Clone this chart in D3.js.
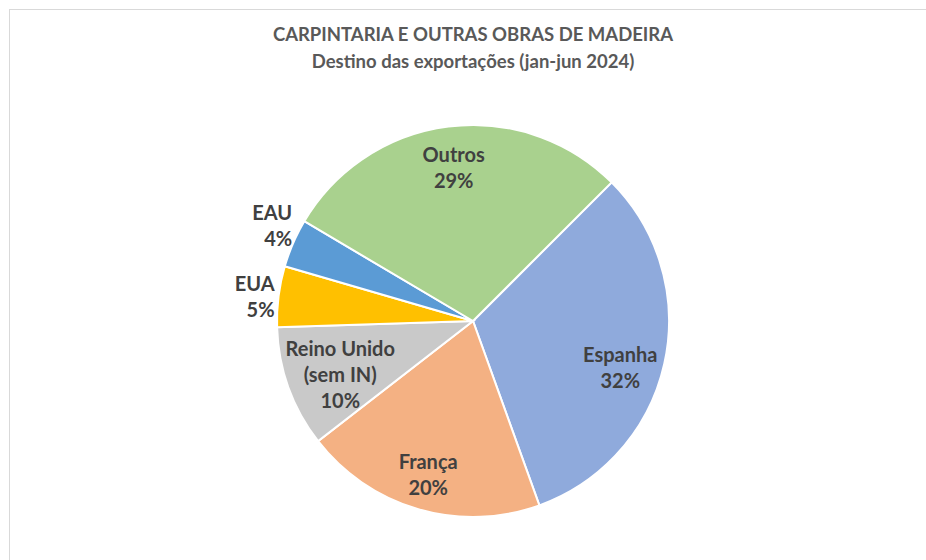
<!DOCTYPE html>
<html lang="en">
    <head>
        <meta charset="utf-8">
        <title>Carpintaria - destino das exportações</title>
        <script src="https://d3js.org/d3.v7.min.js"></script>
        <style type="text/css">
            body { margin: 0; background: #fff; }
            text { font-family: Lato, "Open Sans", sans-serif; font-weight: bold; }
        </style>
    </head>
    <body>
        <script type="text/javascript">

            const svgW = 926;
            const svgH = 560;

            const paises = ["Espanha", "França", "Reino Unido|(sem IN)", "EUA", "EAU", "Outros"];
            const valores = [32, 20, 10, 5, 4, 29];
            const cores = ["#8FAADC", "#F4B183", "#C9C9C9", "#FFC000", "#5B9BD5", "#A9D18E"];

            // label placement: [radius factor, dx, dy, anchor]
            const rotulos = [
                [0.77, 0, 14, "middle"],
                [0.82, 0, 0, "middle"],
                [0.72, 0, 6, "middle"],
                [1.0, -4, 1, "end"],
                [1.0, -1, -17, "end"],
                [0.786, 0, 0, "middle"]
            ];

            const cx = 473, cy = 321, radius = 196;

            const svg = d3.select("body")
                    .append("svg")
                    .attr("width", svgW)
                    .attr("height", svgH);

            svg.append("rect")
                .attr("x", 9.5).attr("y", 9.5)
                .attr("width", 940).attr("height", 580)
                .attr("fill", "none")
                .attr("stroke", "#d9d9d9");

            svg.append("text")
                .attr("x", 473).attr("y", 41)
                .attr("text-anchor", "middle")
                .attr("font-size", 18.5)
                .attr("fill", "#595959")
                .text("CARPINTARIA E OUTRAS OBRAS DE MADEIRA");
            svg.append("text")
                .attr("x", 473).attr("y", 68)
                .attr("text-anchor", "middle")
                .attr("font-size", 18.5)
                .attr("fill", "#595959")
                .text("Destino das exportações (jan-jun 2024)");

            const data = paises.map((p, i) => ({nome: p, valor: valores[i], cor: cores[i], rot: rotulos[i]}));

            const pie = d3.pie()
                .value(d => d.valor)
                .sort(null)
                .startAngle(Math.PI / 4)
                .endAngle(Math.PI / 4 + 2 * Math.PI);

            const arc = d3.arc().innerRadius(0).outerRadius(radius);

            const g = svg.append("g").attr("transform", "translate(" + cx + "," + cy + ")");

            const arcs = pie(data);

            g.selectAll("path")
                .data(arcs)
                .enter()
                .append("path")
                .attr("d", arc)
                .attr("fill", d => d.data.cor)
                .attr("stroke", "#fff")
                .attr("stroke-width", 2);

            const lineH = 26;

            arcs.forEach(a => {
                const mid = (a.startAngle + a.endAngle) / 2;
                const linhas = a.data.nome.split("|").concat([a.data.valor + "%"]);
                const [f, dx, dy, anchor] = a.data.rot;
                const r = radius * f;
                const x = r * Math.sin(mid) + dx;
                const y = -r * Math.cos(mid) + dy;
                const t = g.append("text")
                    .attr("text-anchor", anchor)
                    .attr("font-size", 20)
                    .attr("fill", "#404040");
                const y0 = y - (linhas.length - 1) * lineH / 2 + 7;
                linhas.forEach((l, i) => {
                    t.append("tspan")
                        .attr("x", x)
                        .attr("y", y0 + i * lineH)
                        .text(l);
                });
            });

        </script>
    </body>
</html>
